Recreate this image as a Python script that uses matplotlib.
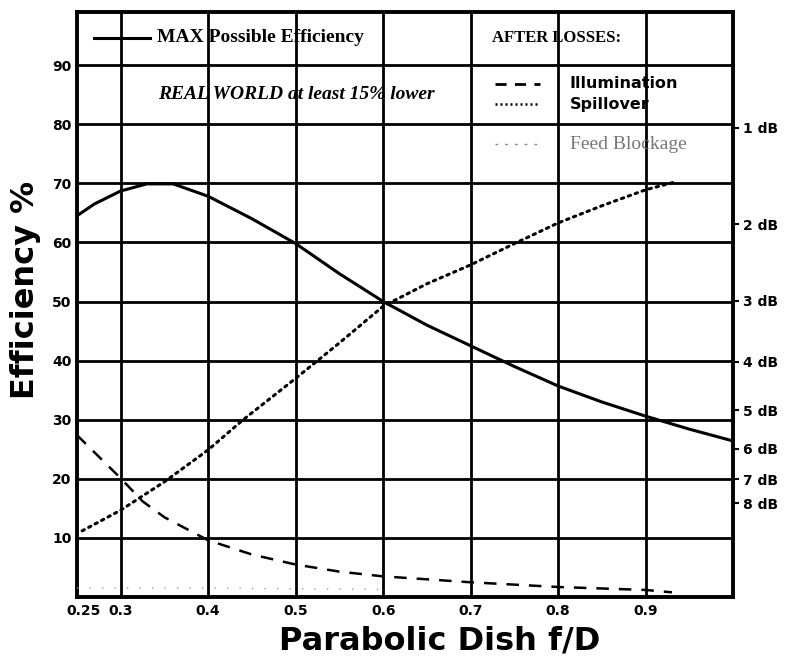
import numpy as np
import matplotlib
matplotlib.use('Agg')
import matplotlib.pyplot as plt

# MAX possible efficiency (solid)
fd_max = [0.25, 0.27, 0.30, 0.33, 0.36, 0.40, 0.45, 0.50, 0.55, 0.60, 0.65, 0.70, 0.75, 0.80, 0.85, 0.90, 0.95, 1.00]
eff_max = [64.5, 66.5, 68.7, 69.9, 69.9, 67.8, 64, 59.8, 54.7, 50, 46, 42.5, 39, 35.7, 33, 30.6, 28.4, 26.4]

# Spillover (dotted)
fd_spill = [0.256, 0.30, 0.35, 0.40, 0.44, 0.50, 0.55, 0.60, 0.65, 0.70, 0.75, 0.80, 0.85, 0.90, 0.933]
eff_spill = [11.2, 14.7, 19.5, 24.9, 30, 37, 43, 49.2, 53, 56.2, 59.8, 63.3, 66.2, 68.9, 70.2]

# Illumination (dashed)
fd_illum = [0.25, 0.30, 0.325, 0.35, 0.40, 0.45, 0.50, 0.55, 0.60, 0.70, 0.80, 0.90, 0.93]
eff_illum = [27.4, 20.1, 16.2, 13.5, 9.6, 7.2, 5.5, 4.3, 3.5, 2.5, 1.7, 1.2, 0.8]

# Feed blockage (faint)
fd_feed = [0.25, 0.30, 0.40, 0.50, 0.60]
eff_feed = [1.5, 1.5, 1.5, 1.4, 1.3]

x_ticks = [0.258, 0.3, 0.4, 0.5, 0.6, 0.7, 0.8, 0.9]
x_labels = ['0.25', '0.3', '0.4', '0.5', '0.6', '0.7', '0.8', '0.9']
x_grid = [0.3, 0.4, 0.5, 0.6, 0.7, 0.8, 0.9]
y_ticks = [10, 20, 30, 40, 50, 60, 70, 80, 90]
db_values = [1, 2, 3, 4, 5, 6, 7, 8]

sans = 'DejaVu Sans'
serif = 'Liberation Serif'

fig = plt.figure(figsize=(7.85, 6.59), dpi=100)
ax = fig.add_axes([0.098, 0.094, 0.836, 0.888])

for y in y_ticks:
    ax.axhline(y, color='black', lw=2, zorder=1)
for x in x_grid:
    ax.axvline(x, color='black', lw=2, zorder=1)

ax.plot(fd_max, eff_max, color='black', lw=2.2, zorder=3)
ax.plot(fd_spill, eff_spill, color='black', lw=2.2, linestyle=(0, (0.8, 1.6)),
        dash_capstyle='round', zorder=3)
ax.plot(fd_illum, eff_illum, color='black', lw=1.8, linestyle=(0, (5, 4)), zorder=3)
ax.plot(fd_feed, eff_feed, color='#999999', lw=1, linestyle=(0, (1, 8)), zorder=3)

ax.set_xlim(0.25, 1.0)
ax.set_ylim(0, 99)
ax.set_xticks(x_ticks)
ax.set_xticklabels(x_labels, fontfamily=sans, fontweight='bold', fontsize=10)
ax.set_yticks(y_ticks)
ax.set_yticklabels([str(v) for v in y_ticks], fontfamily=sans, fontweight='bold', fontsize=10)
ax.tick_params(axis='x', length=0, pad=5)
ax.tick_params(axis='y', length=0, pad=4)
for s in ax.spines.values():
    s.set_linewidth(2.8)

# dB loss scale on the right
ax2 = ax.twinx()
ax2.set_ylim(ax.get_ylim())
ax2.set_yticks([100 * 10 ** (-d / 10.0) for d in db_values])
ax2.set_yticklabels(['%d dB' % d for d in db_values], fontfamily=sans, fontweight='bold', fontsize=10)
ax2.tick_params(axis='y', length=4, width=1.5, pad=3)
for s in ax2.spines.values():
    s.set_visible(False)

ax.set_xlabel('Parabolic Dish f/D', fontfamily=sans, fontweight='bold', fontsize=23)
ax.set_ylabel('Efficiency %', fontfamily=sans, fontweight='bold', fontsize=23)
ax.xaxis.set_label_coords(0.553, -0.048)
ax.yaxis.set_label_coords(-0.055, 0.525)

# legend drawn inside the axes
ax.plot([0.27, 0.333], [94.6, 94.6], color='black', lw=2.2, zorder=3)
ax.text(0.341, 94.6, 'MAX Possible Efficiency', fontfamily=serif, fontweight='bold', fontsize=14, va='center')
ax.text(0.343, 85, 'REAL WORLD at least 15% lower', fontfamily=serif, fontweight='bold', style='italic',
        fontsize=14, va='center')
ax.text(0.724, 94.6, 'AFTER LOSSES:', fontfamily=serif, fontweight='bold', fontsize=12, va='center')
ax.plot([0.728, 0.779], [86.8, 86.8], color='black', lw=2, linestyle=(0, (4, 3)), zorder=3)
ax.text(0.813, 86.8, 'Illumination', fontfamily=sans, fontweight='bold', fontsize=11.5, va='center')
ax.plot([0.728, 0.779], [83.4, 83.4], color='black', lw=1.8, linestyle=(0, (0.8, 1.2)), zorder=3)
ax.text(0.813, 83.4, 'Spillover', fontfamily=sans, fontweight='bold', fontsize=11.5, va='center')
ax.plot([0.728, 0.779], [76.6, 76.6], color='#888888', lw=1, linestyle=(0, (2, 5)), zorder=3)
ax.text(0.813, 76.6, 'Feed Blockage', fontfamily=serif, fontsize=14, va='center', color='#777777')

fig.savefig('out.png', dpi=100)
